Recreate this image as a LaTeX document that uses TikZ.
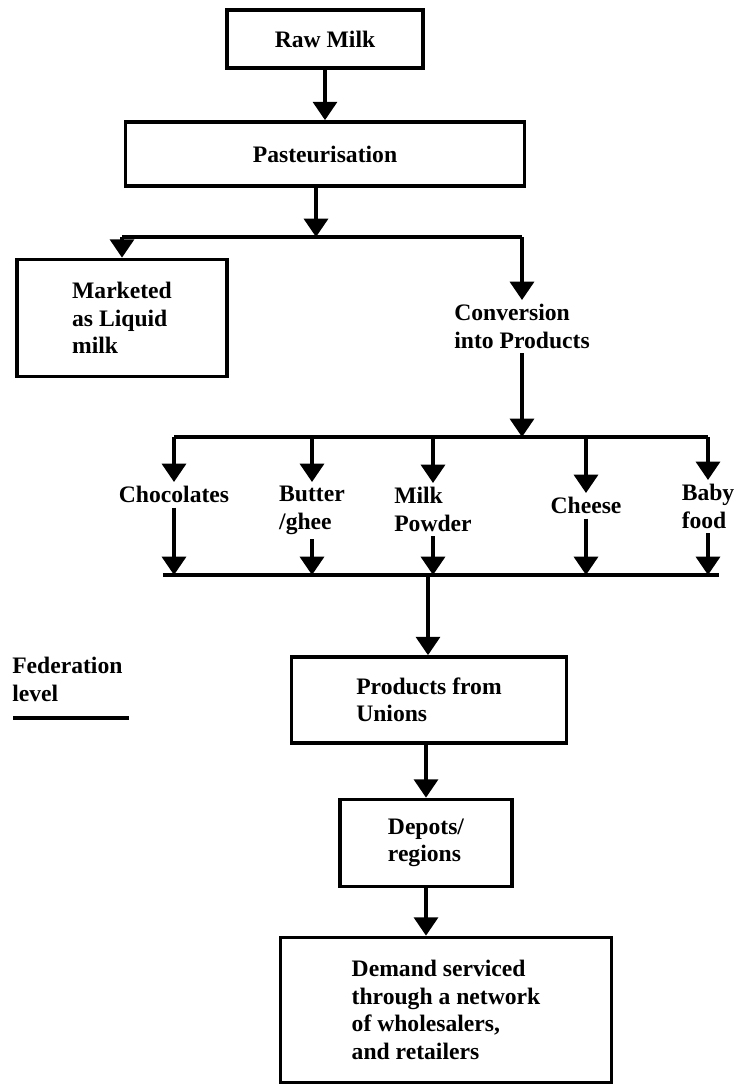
\documentclass[tikz,border=0pt]{standalone}
\usepackage{fontspec}
\setmainfont{Liberation Serif}
\usepackage{tikz}
\usetikzlibrary{positioning}
\usetikzlibrary{arrows.meta}
\tikzset{% styles of the flow chart
        stage/.style={draw, line width=2.6pt, align=left, inner sep=4pt},
        lbl/.style={align=left, inner sep=3pt},
        flow/.style={line width=2.4pt, -{Triangle[width=17pt,length=13pt]}},
        bus/.style={line width=2.6pt}
        }

\begin{document}
\begin{tikzpicture}[x=0.025cm, y=-0.025cm,
    every node/.style={font=\bfseries\fontsize{16.8}{19.5}\selectfont}]
 \useasboundingbox[fill=white] (0,0) rectangle (736,1084);
 \node [stage, minimum width=4.9cm, minimum height=1.45cm] (raw) at (325,39) {Raw Milk};
 \node [stage, minimum width=9.975cm, minimum height=1.6cm] (past) at (325,154) {Pasteurisation};
 \node [stage, minimum width=5.25cm, minimum height=2.925cm] (mkt) at (122,318) {Marketed\\as Liquid\\milk};
 \node [lbl, anchor=north] (conv) at (522,300) {Conversion\\into Products};
 % products
 \node [lbl, anchor=north] (choc) at (174,482) {Chocolates};
 \node [lbl, anchor=north] (butter) at (312,482) {Butter\\/ghee};
 \node [lbl, anchor=north] (powder) at (433,483) {Milk\\Powder};
 \node [lbl, anchor=north] (cheese) at (586,493) {Cheese};
 \node [lbl, anchor=north] (baby) at (708,480) {Baby\\food};
 \node [stage, minimum width=6.875cm, minimum height=2.15cm] (unions) at (429,700) {Products from\\Unions};
 \node [stage, minimum width=4.3cm, minimum height=2.175cm] (depots) at (426,843) {Depots/\\regions};
 \node [stage, minimum width=8.275cm, minimum height=3.625cm] (demand) at (446,1010) {Demand serviced\\through a network\\of wholesalers,\\and retailers};
 \node [lbl, anchor=north west, inner sep=0pt] (fed) at (12,657) {Federation\\level};
 \draw [line width=2.6pt] (13,718) -- (129,718);
 % junctions
 \coordinate (split) at (316,237);
 \coordinate (top) at (522,437);
 \coordinate (low) at (428,575);
\draw [flow] (raw) -- (past);
\draw [flow] (past.south -| split) -- (split);
\draw [bus] (split -| mkt) -- (split -| conv);
\draw [flow] (split -| mkt) -- (mkt.north);
\draw [flow] (split -| conv) -- (conv.north);
\draw [flow] (conv.south) -- (top);
\draw [bus] (top -| choc) -- (top -| baby);
\foreach \p in {choc, butter, powder, cheese, baby} {
  \draw [flow] (top -| \p) -- (\p.north);
  \draw [flow] (\p.south) -- (low -| \p);
}
\draw [bus] ([xshift=-8pt]low -| choc) -- ([xshift=8pt]low -| baby);
\draw [flow] (low) -- (low |- unions.north);
\draw [flow] (unions.south -| depots) -- (depots.north);
\draw [flow] (depots.south) -- (depots.south |- demand.north);
\end{tikzpicture}
\end{document}
